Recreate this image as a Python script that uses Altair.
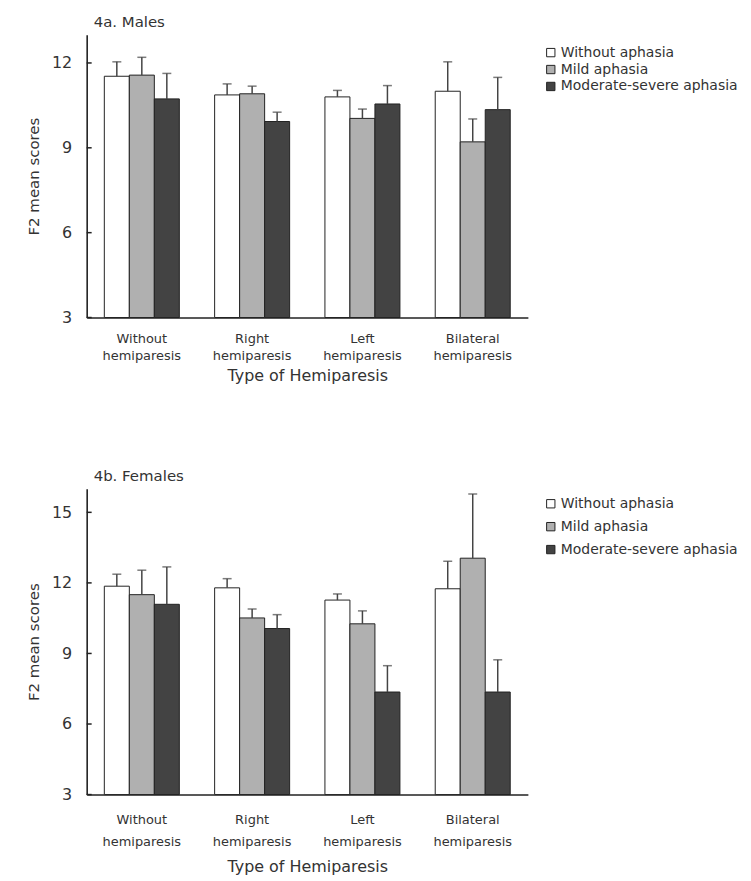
import altair as alt
import pandas as pd

categories = ["Without hemiparesis", "Right hemiparesis", "Left hemiparesis", "Bilateral hemiparesis"]
groups = ["Without aphasia", "Mild aphasia", "Moderate-severe aphasia"]

# Males (4a): mean F2 scores and error-bar half-lengths
males_without = [11.53, 10.87, 10.80, 11.00]
males_mild = [11.57, 10.91, 10.04, 9.21]
males_moderate = [10.73, 9.93, 10.55, 10.35]
males_without_err = [0.51, 0.39, 0.23, 1.04]
males_mild_err = [0.63, 0.27, 0.33, 0.81]
males_moderate_err = [0.90, 0.33, 0.65, 1.14]

# Females (4b)
females_without = [11.86, 11.79, 11.27, 11.75]
females_mild = [11.50, 10.51, 10.26, 13.05]
females_moderate = [11.09, 10.06, 7.36, 7.36]
females_without_err = [0.51, 0.39, 0.26, 1.17]
females_mild_err = [1.04, 0.38, 0.55, 2.73]
females_moderate_err = [1.59, 0.59, 1.12, 1.37]

males_ticks = [3, 6, 9, 12]
females_ticks = [3, 6, 9, 12, 15]

FONT = "DejaVu Sans"
TXT = "#333333"
fills = ["#ffffff", "#b0b0b0", "#434343"]


def build(series, errs):
    rows = []
    for g, vals, es in zip(groups, series, errs):
        for c, v, e in zip(categories, vals, es):
            rows.append({"cat": c, "grp": g, "mean": v, "upper": v + e})
    return pd.DataFrame(rows)


def panel(title, df, ticks, ymax, height, lab_pad, lab_lh, title_pad,
          legend_y, row_pad, leg_font):
    x = alt.X("cat:N", sort=categories,
              scale=alt.Scale(paddingInner=0.32, paddingOuter=0.16),
              axis=alt.Axis(title="Type of Hemiparesis", labelAngle=0,
                            labelExpr="split(datum.label, ' ')",
                            labelFontSize=13, labelLineHeight=lab_lh, labelPadding=lab_pad,
                            labelColor=TXT, labelFont=FONT,
                            titleFontSize=16, titleFont=FONT, titleColor=TXT,
                            titleFontWeight="normal", titlePadding=title_pad,
                            ticks=False, domainColor="#222", domainWidth=1.6))
    yscale = alt.Scale(domain=[3, ymax], nice=False, zero=False)
    yaxis = alt.Axis(title="F2 mean scores", values=ticks, grid=False, ticks=False,
                     labelFontSize=16, labelPadding=15, labelColor=TXT, labelFont=FONT,
                     titleFontSize=15, titleFont=FONT, titleColor=TXT,
                     titleFontWeight="normal", titlePadding=10,
                     domainColor="#222", domainWidth=1.6)
    xo = alt.XOffset("grp:N", sort=groups, scale=alt.Scale(paddingInner=0, paddingOuter=0))

    bars = alt.Chart(df).mark_bar(stroke="#222", strokeWidth=1).encode(
        x=x,
        xOffset=xo,
        y=alt.Y("mean:Q", scale=yscale, axis=yaxis),
        y2=alt.datum(3),
        fill=alt.Fill("grp:N", sort=groups,
                      scale=alt.Scale(domain=groups, range=fills),
                      legend=alt.Legend(title=None, orient="none", legendX=459, legendY=legend_y,
                                        symbolType="square", symbolSize=70,
                                        symbolStrokeColor="#222", symbolStrokeWidth=1,
                                        labelFontSize=leg_font, labelFont=FONT, labelColor=TXT,
                                        labelLimit=400,
                                        rowPadding=row_pad, labelOffset=3)),
    )
    err = alt.Chart(df).mark_rule(color="#444", strokeWidth=1.5).encode(
        x=alt.X("cat:N", sort=categories), xOffset=xo,
        y=alt.Y("mean:Q"), y2="upper:Q")
    cap = alt.Chart(df).mark_tick(color="#444", thickness=1.5, size=9, orient="horizontal").encode(
        x=alt.X("cat:N", sort=categories), xOffset=xo, y=alt.Y("upper:Q"))
    tick_df = pd.DataFrame({"t": ticks})
    tk = alt.Chart(tick_df).mark_rule(color="#222", strokeWidth=1.5).encode(
        y=alt.Y("t:Q"), x=alt.value(0), x2=alt.value(5))

    return alt.layer(bars, err, cap, tk).properties(
        width=443, height=height,
        title=alt.TitleParams(title, anchor="start", frame="group", fontSize=15,
                              font=FONT, fontWeight="normal", color=TXT, dx=7, offset=5))


top = panel("4a. Males",
            build([males_without, males_mild, males_moderate],
                  [males_without_err, males_mild_err, males_moderate_err]),
            males_ticks, 13, 284, 15, 17, 5, 11, 3, 14)
bottom = panel("4b. Females",
               build([females_without, females_mild, females_moderate],
                     [females_without_err, females_mild_err, females_moderate_err]),
               females_ticks, 16, 307, 19, 22, 10, 8, 9, 14)

chart = alt.vconcat(top, bottom, spacing=86).resolve_scale(
    fill="independent", y="independent", x="independent"
).properties(
    padding={"left": 18, "top": 5, "right": 5, "bottom": 5}
).configure(background="white").configure_view(stroke=None)

chart.save("out.html", embed_options={"renderer": "svg", "actions": False})
